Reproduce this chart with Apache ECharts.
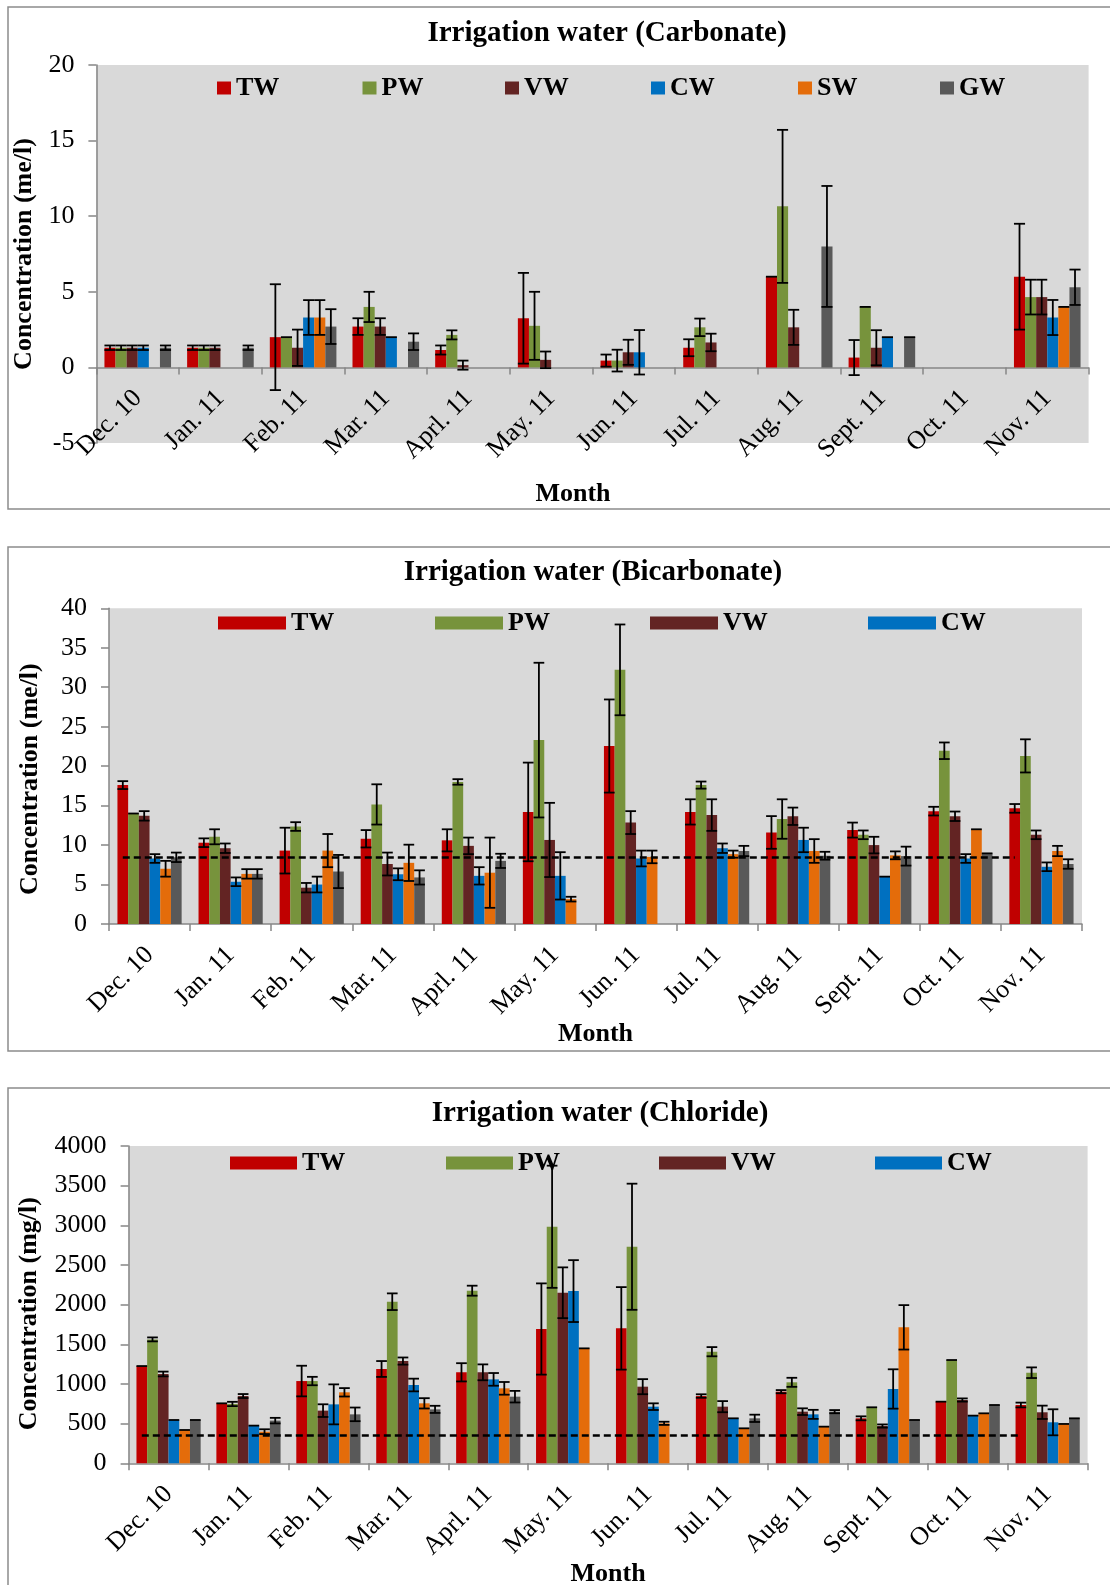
<!DOCTYPE html>
<html><head><meta charset="utf-8">
<script src="https://cdn.jsdelivr.net/npm/echarts@6/dist/echarts.min.js"></script>
<style>html,body{margin:0;padding:0;background:#fff}#c{width:1110px;height:1585px}</style>
</head><body><div id="c"></div>
<script>
// ---------- categories ----------
const months = ['Dec. 10','Jan. 11','Feb. 11','Mar. 11','Aprl. 11','May. 11','Jun. 11','Jul. 11','Aug. 11','Sept. 11','Oct. 11','Nov. 11'];
const seriesNames = ['TW','PW','VW','CW','SW','GW'];

// ---------- Carbonate (me/l) ----------
const carbTW    = [1.3, 1.3, 2.0, 2.7, 1.15, 3.25, 0.45, 1.3, 6.0, 0.65, 0, 6.0];
const carbTWerr = [0.15, 0.15, 3.5, 0.55, 0.3, 3.0, 0.4, 0.56, 0, 1.16, 0, 3.5];
const carbPW    = [1.3, 1.3, 2.0, 4.0, 2.15, 2.75, 0.45, 2.65, 10.65, 4.0, 0, 4.65];
const carbPWerr = [0.15, 0.15, 0, 1.0, 0.3, 2.25, 0.72, 0.58, 5.06, 0, 0, 1.15];
const carbVW    = [1.3, 1.3, 1.3, 2.7, 0.15, 0.5, 1.0, 1.65, 2.65, 1.3, 0, 4.65];
const carbVWerr = [0.15, 0.15, 1.2, 0.55, 0.3, 0.55, 0.83, 0.58, 1.16, 1.16, 0, 1.15];
const carbCW    = [1.3, 0, 3.3, 2.0, 0, 0, 1.0, 0, 0, 2.0, 0, 3.3];
const carbCWerr = [0.15, 0, 1.15, 0, 0, 0, 1.47, 0, 0, 0, 0, 1.16];
const carbSW    = [0, 0, 3.3, 0, 0, 0, 0, 0, 0, 0, 0, 4.0];
const carbSWerr = [0, 0, 1.15, 0, 0, 0, 0, 0, 0, 0, 0, 0];
const carbGW    = [1.3, 1.3, 2.7, 1.7, 0, 0, 0, 0, 8.0, 2.0, 0, 5.3];
const carbGWerr = [0.15, 0.15, 1.15, 0.55, 0, 0, 0, 0, 4.0, 0, 0, 1.17];
const carbTicks = [-5, 0, 5, 10, 15, 20];

// ---------- Bicarbonate (me/l) ----------
const bicTW    = [17.6, 10.3, 9.3, 10.8, 10.6, 14.2, 22.55, 14.2, 11.6, 11.9, 14.3, 14.65];
const bicTWerr = [0.5, 0.55, 2.9, 1.1, 1.4, 6.25, 5.9, 1.6, 2.07, 0.95, 0.55, 0.55];
const bicPW    = [14.0, 11.05, 12.35, 15.15, 18.0, 23.3, 32.2, 17.6, 13.3, 11.3, 21.95, 21.3];
const bicPWerr = [0, 0.95, 0.55, 2.55, 0.35, 9.8, 5.75, 0.45, 2.5, 0.55, 1.05, 2.1];
const bicVW    = [13.7, 9.6, 4.6, 7.6, 9.9, 10.65, 12.85, 13.8, 13.65, 10.0, 13.65, 11.3];
const bicVWerr = [0.6, 0.6, 0.6, 1.45, 1.05, 4.7, 1.45, 2.0, 1.1, 1.05, 0.6, 0.55];
const bicCW    = [8.3, 5.35, 5.0, 6.3, 6.1, 6.1, 8.3, 9.6, 10.65, 6.0, 8.3, 7.25];
const bicCWerr = [0.55, 0.55, 1.0, 0.75, 1.1, 3.0, 1.0, 0.6, 1.55, 0, 0.55, 0.55];
const bicSW    = [7.0, 6.35, 9.3, 7.75, 6.5, 3.15, 8.5, 8.85, 9.25, 8.7, 12.0, 9.25];
const bicSWerr = [1.0, 0.6, 2.1, 2.3, 4.45, 0.3, 0.8, 0.45, 1.5, 0.5, 0, 0.65];
const bicGW    = [8.45, 6.35, 6.65, 5.9, 8.0, 0, 0, 9.25, 8.65, 8.6, 8.95, 7.6];
const bicGWerr = [0.6, 0.6, 2.1, 0.9, 0.9, 0, 0, 0.65, 0.5, 1.2, 0, 0.6];
const bicLimit = 8.5;
const bicTicks = [0, 5, 10, 15, 20, 25, 30, 35, 40];

// ---------- Chloride (mg/l) ----------
const chlTW    = [1226, 756, 1037, 1189, 1147, 1693, 1701, 848, 903, 567, 777, 735];
const chlTWerr = [0, 0, 193, 100, 115, 575, 520, 22, 20, 25, 0, 30];
const chlPW    = [1562, 748, 1037, 2037, 2176, 2982, 2730, 1407, 1021, 706, 1302, 1142];
const chlPWerr = [25, 27, 53, 105, 63, 770, 795, 58, 57, 0, 0, 67];
const chlVW    = [1126, 848, 664, 1289, 1147, 2150, 966, 714, 651, 470, 798, 643];
const chlVWerr = [30, 25, 80, 45, 100, 320, 95, 70, 42, 20, 20, 84];
const chlCW    = [546, 475, 743, 987, 1058, 2171, 714, 567, 617, 937, 601, 517];
const chlCWerr = [0, 0, 252, 80, 80, 390, 42, 0, 57, 248, 0, 164];
const chlSW    = [420, 399, 895, 756, 945, 1449, 504, 441, 462, 1714, 630, 496];
const chlSWerr = [0, 30, 53, 65, 80, 0, 20, 0, 0, 280, 0, 0];
const chlGW    = [546, 538, 617, 680, 840, 0, 0, 567, 651, 546, 735, 567];
const chlGWerr = [0, 35, 86, 45, 73, 0, 0, 46, 20, 0, 0, 0];
const chlLimit = 355;
const chlTicks = [0, 500, 1000, 1500, 2000, 2500, 3000, 3500, 4000];

// ---------- styling ----------
const FONT = '"Liberation Serif","Times New Roman",serif';
const COLORS = ['#C00000', '#77933C', '#632423', '#0070C0', '#E46C0A', '#595959'];
const AXIS_GRAY = '#868686';
const LABEL_STYLE = {show: true, rotate: 45, margin: 27, interval: 0, fontFamily: FONT, fontSize: 26, color: '#000'};
const XNAME_STYLE = {fontFamily: FONT, fontWeight: 'bold', fontSize: 26, color: '#000'};

const panels = [
  {
    title: 'Irrigation water (Carbonate)', titleX: 607, titleY: 19,
    frame: {x: 8, y: 7, w: 1130, h: 502},
    grid: {left: 96.4, top: 65, width: 992.2, height: 378},
    zeroGridHeight: 302.3,
    ticks: carbTicks, yName: 'Concentration (me/l)', yNameGap: 54, yNamePad: [0, 0, 0, 0],
    xNameGap: 114, xNamePad: [0, 39, 0, 0],
    values: [carbTW, carbPW, carbVW, carbCW, carbSW, carbGW],
    errs: [carbTWerr, carbPWerr, carbVWerr, carbCWerr, carbSWerr, carbGWerr],
    bw: 11.1, limit: null,
    legendNames: seriesNames, legendLeft: [217, 362.5, 505, 651, 798, 940], legendTop: 75,
    legendW: 14, legendH: 13
  },
  {
    title: 'Irrigation water (Bicarbonate)', titleX: 593, titleY: 558,
    frame: {x: 8, y: 547, w: 1130, h: 504},
    grid: {left: 109, top: 608.3, width: 973, height: 315.7},
    zeroGridHeight: null,
    ticks: bicTicks, yName: 'Concentration (me/l)', yNameGap: 66, yNamePad: [0, 26, 0, 0],
    xNameGap: 97, xNamePad: [0, 0, 0, 0],
    values: [bicTW, bicPW, bicVW, bicCW, bicSW, bicGW],
    errs: [bicTWerr, bicPWerr, bicVWerr, bicCWerr, bicSWerr, bicGWerr],
    bw: 10.7, limit: bicLimit,
    legendNames: ['TW', 'PW', 'VW', 'CW'], legendLeft: [218, 435, 650, 868], legendTop: 610,
    legendW: 68, legendH: 13
  },
  {
    title: 'Irrigation water (Chloride)', titleX: 600, titleY: 1099,
    frame: {x: 8, y: 1088, w: 1130, h: 560},
    grid: {left: 128.6, top: 1146, width: 959, height: 317.3},
    zeroGridHeight: null,
    ticks: chlTicks, yName: 'Concentration (mg/l)', yNameGap: 86, yNamePad: [0, 18, 0, 0],
    xNameGap: 98, xNamePad: [0, 0, 0, 0],
    values: [chlTW, chlPW, chlVW, chlCW, chlSW, chlGW],
    errs: [chlTWerr, chlPWerr, chlVWerr, chlCWerr, chlSWerr, chlGWerr],
    bw: 10.7, limit: chlLimit,
    legendNames: ['TW', 'PW', 'VW', 'CW'], legendLeft: [230, 446, 659, 875], legendTop: 1150,
    legendW: 67, legendH: 13
  }
];

const grids = [], xAxes = [], yAxes = [], series = [], legends = [], graphics = [];
const extraAxes = [];

panels.forEach((p, pi) => {
  graphics.push({
    type: 'rect', silent: true, z: -10,
    shape: {x: p.frame.x, y: p.frame.y, width: p.frame.w, height: p.frame.h},
    style: {fill: 'none', stroke: '#8c8c8c', lineWidth: 1.5}
  });
  graphics.push({
    type: 'text', x: p.titleX, y: p.titleY, silent: true,
    style: {text: p.title, fill: '#000', font: 'bold 29px ' + FONT, textAlign: 'center', textVerticalAlign: 'top'}
  });

  grids.push(Object.assign({show: true, backgroundColor: '#d9d9d9', borderWidth: 0,
    containLabel: false, outerBoundsMode: 'none'}, p.grid));

  const labelsHere = p.zeroGridHeight === null;
  xAxes.push({
    type: 'category', gridIndex: pi, data: months, boundaryGap: true,
    axisLine: {show: true, onZero: true, lineStyle: {color: AXIS_GRAY, width: 1.5}},
    axisTick: {show: true, inside: false, length: 7, alignWithLabel: false, interval: 0, lineStyle: {color: AXIS_GRAY, width: 1.5}},
    axisLabel: labelsHere ? LABEL_STYLE : {show: false},
    splitLine: {show: false},
    name: labelsHere ? 'Month' : '', nameLocation: 'middle', nameGap: p.xNameGap, nameMoveOverlap: false,
    nameTextStyle: Object.assign({padding: p.xNamePad}, XNAME_STYLE)
  });

  const tk = p.ticks;
  yAxes.push({
    type: 'value', gridIndex: pi, min: tk[0], max: tk[tk.length - 1], interval: tk[1] - tk[0],
    axisLine: {show: true, lineStyle: {color: AXIS_GRAY, width: 1.5}},
    axisTick: {show: true, inside: false, length: 8, lineStyle: {color: AXIS_GRAY, width: 1.5}},
    axisLabel: {show: true, margin: 22, fontFamily: FONT, fontSize: 26, color: '#000',
      showMinLabel: true, showMaxLabel: true, formatter: v => String(v)},
    splitLine: {show: false},
    name: p.yName, nameLocation: 'middle', nameGap: p.yNameGap,
    nameTextStyle: {fontFamily: FONT, fontWeight: 'bold', fontSize: 26, color: '#000', padding: p.yNamePad}
  });

  if (!labelsHere) {
    extraAxes.push({pi: pi, p: p});
  }

  seriesNames.forEach((nm, si) => {
    const s = {
      type: 'bar', name: nm, xAxisIndex: pi, yAxisIndex: pi,
      data: p.values[si], barWidth: p.bw, barGap: '0%',
      itemStyle: {color: COLORS[si]}, emphasis: {disabled: true}, silent: true, z: 2
    };
    if (si === 0 && p.limit !== null) {
      s.markLine = {
        silent: true, symbol: ['none', 'none'], label: {show: false}, z: 6,
        lineStyle: {color: '#000', type: [7, 4], width: 2.5},
        data: [[{coord: [months[0], p.limit]}, {coord: [months[months.length - 1], p.limit]}]]
      };
    }
    series.push(s);
  });

  const rows = [];
  seriesNames.forEach((nm, si) => {
    p.values[si].forEach((v, ci) => {
      const e = p.errs[si][ci];
      if (v !== 0 || e !== 0) rows.push([ci, si, v, e]);
    });
  });
  const bw = p.bw;
  series.push({
    type: 'custom', name: 'err' + pi, xAxisIndex: pi, yAxisIndex: pi, silent: true, z: 5,
    encode: {x: 0, y: 2},
    data: rows,
    renderItem: function (params, api) {
      const ci = api.value(0), si = api.value(1), v = api.value(2), e = api.value(3);
      const base = api.coord([ci, v]);
      const x = base[0] + (si - 2.5) * bw;
      const yt = api.coord([ci, v + e])[1];
      const yb = api.coord([ci, v - e])[1];
      const st = {stroke: '#000', lineWidth: 1.8};
      const ch = [{type: 'line', shape: {x1: x - bw / 2, y1: yt, x2: x + bw / 2, y2: yt}, style: st}];
      if (e > 0) {
        ch.push({type: 'line', shape: {x1: x, y1: yt, x2: x, y2: yb}, style: st});
        ch.push({type: 'line', shape: {x1: x - bw / 2, y1: yb, x2: x + bw / 2, y2: yb}, style: st});
      }
      return {type: 'group', children: ch};
    }
  });

  p.legendNames.forEach((nm, li) => {
    legends.push({
      data: [nm], left: p.legendLeft[li], top: p.legendTop, orient: 'horizontal',
      icon: 'rect', itemWidth: p.legendW, itemHeight: p.legendH, padding: 0, itemGap: 0,
      selectedMode: false,
      textStyle: {fontFamily: FONT, fontWeight: 'bold', fontSize: 26, color: '#000', lineHeight: 26}
    });
  });
});

// Carbonate panel: month labels sit on the zero line, so they are drawn by a
// label-only category axis in a transparent grid whose bottom is the zero line.
extraAxes.forEach(({pi, p}) => {
  const gi = grids.length;
  grids.push({show: false, left: p.grid.left, top: p.grid.top, width: p.grid.width,
    height: p.zeroGridHeight, containLabel: false, outerBoundsMode: 'none'});
  xAxes.push({
    type: 'category', gridIndex: gi, data: months, boundaryGap: true,
    axisLine: {show: false}, axisTick: {show: false}, splitLine: {show: false},
    axisLabel: LABEL_STYLE,
    name: 'Month', nameLocation: 'middle', nameGap: p.xNameGap, nameMoveOverlap: false,
    nameTextStyle: Object.assign({padding: p.xNamePad}, XNAME_STYLE)
  });
  yAxes.push({type: 'value', gridIndex: gi, show: false, min: 0, max: 1});
});

const chart = echarts.init(document.getElementById('c'), null, {renderer: 'canvas'});
chart.setOption({
  animation: false,
  backgroundColor: '#fff',
  grid: grids, xAxis: xAxes, yAxis: yAxes, series: series, legend: legends,
  graphic: graphics, tooltip: {show: false}
});
</script></body></html>
